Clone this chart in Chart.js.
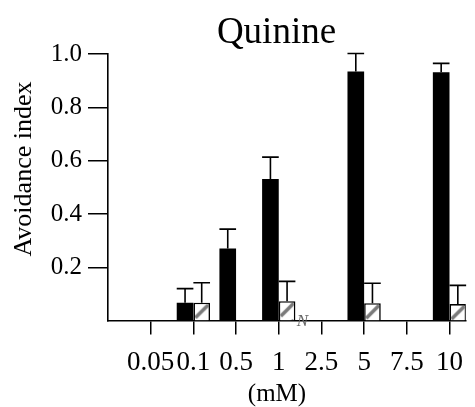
<!DOCTYPE html>
<html>
<head>
<meta charset="utf-8">
<script src="https://cdn.jsdelivr.net/npm/chart.js@4"></script>
<style>
  html, body { margin: 0; padding: 0; background: #fff; }
  canvas { display: block; }
</style>
</head>
<body>
<canvas id="c" width="475" height="407"></canvas>
<script>
// Quinine concentrations (mM)
const categories = ['0.05', '0.1', '0.5', '1', '2.5', '5', '7.5', '10'];
// Avoidance index, solid bars and their upper error (SEM)
const solidValues = [null, 0.067, 0.27, 0.531, null, 0.934, null, 0.932];
const solidErrors = [null, 0.053, 0.073, 0.082, null, 0.068, null, 0.033];
// Avoidance index, hatched bars and their upper error
const hatchValues = [null, 0.067, null, 0.073, null, 0.065, null, 0.062];
const hatchErrors = [null, 0.075, null, 0.074, null, 0.075, null, 0.070];
const yTickValues = [0.2, 0.4, 0.6, 0.8, 1.0];

const SERIF = "'Liberation Serif', 'Times New Roman', serif";
Chart.defaults.font.family = SERIF;
Chart.defaults.color = '#000';

const toPoints = (vals) => vals.map((v, i) => ({ x: i, y: v }));

// One diagonal stroke per hatched box, anchored at the box's top-left corner
function hatchFill(c) {
  const chart = c.chart;
  if (c.type !== 'data' || !chart.chartArea || !c.raw || c.raw.y == null) return '#fff';
  const xs = chart.scales.x, ys = chart.scales.y;
  const step = xs.getPixelForValue(1) - xs.getPixelForValue(0);
  const w = Math.max(2, Math.round(step * 0.78 / 2));
  const left = xs.getPixelForValue(c.raw.x);
  const top = ys.getPixelForValue(c.raw.y);
  const tile = document.createElement('canvas');
  tile.width = w; tile.height = w;
  const t = tile.getContext('2d');
  t.fillStyle = '#fff';
  t.fillRect(0, 0, w, w);
  t.strokeStyle = '#7a7a7a';
  t.lineWidth = 3.5;
  t.beginPath();
  t.moveTo(2, w - 2);
  t.lineTo(w - 2, 2);
  t.stroke();
  const pat = chart.ctx.createPattern(tile, 'repeat');
  if (pat.setTransform) pat.setTransform(new DOMMatrix([1, 0, 0, 1, left, top]));
  return pat;
}

// Upper error bars with caps, drawn from the data arrays through the scales
const errorBars = {
  id: 'errorBars',
  afterDatasetsDraw(chart) {
    const ys = chart.scales.y;
    const ctx = chart.ctx;
    const sets = [[solidValues, solidErrors], [hatchValues, hatchErrors]];
    ctx.save();
    ctx.strokeStyle = '#000';
    ctx.lineWidth = 1.6;
    sets.forEach(([vals, errs], di) => {
      const meta = chart.getDatasetMeta(di);
      meta.data.forEach((bar, j) => {
        if (vals[j] == null || errs[j] == null) return;
        const y0 = ys.getPixelForValue(vals[j]);
        const y1 = ys.getPixelForValue(vals[j] + errs[j]);
        const half = bar.width / 2;
        ctx.beginPath();
        ctx.moveTo(bar.x, y0);
        ctx.lineTo(bar.x, y1);
        ctx.moveTo(bar.x - half, y1);
        ctx.lineTo(bar.x + half, y1);
        ctx.stroke();
      });
    });
    ctx.restore();
  }
};

// Title, axis titles and the small note beside the 1 mM hatched bar
const captions = {
  id: 'captions',
  afterDraw(chart) {
    const ctx = chart.ctx;
    const xs = chart.scales.x;
    ctx.save();
    ctx.fillStyle = '#000';
    ctx.textAlign = 'center';
    ctx.textBaseline = 'alphabetic';

    ctx.font = '37px ' + SERIF;
    ctx.fillText('Quinine', 276.5, 42.5);

    ctx.font = '25px ' + SERIF;
    ctx.fillText('(mM)', 277, 401);

    ctx.save();
    ctx.translate(31, 169);
    ctx.rotate(-Math.PI / 2);
    ctx.font = '26px ' + SERIF;
    ctx.fillText('Avoidance index', 0, 0);
    ctx.restore();

    const step = xs.getPixelForValue(1) - xs.getPixelForValue(0);
    const nx = xs.getPixelForValue(3) + step * 0.78 / 2 + 7;
    ctx.fillStyle = '#666';
    ctx.font = 'italic 17px ' + SERIF;
    ctx.fillText('N', nx, 326);
    ctx.restore();
  }
};

new Chart(document.getElementById('c'), {
  type: 'bar',
  data: {
    datasets: [
      {
        data: toPoints(solidValues),
        backgroundColor: '#000',
        borderColor: '#000',
        borderWidth: 0
      },
      {
        data: toPoints(hatchValues),
        backgroundColor: hatchFill,
        borderColor: '#000',
        borderWidth: 1.6,
        borderSkipped: 'bottom'
      }
    ]
  },
  options: {
    responsive: false,
    animation: false,
    events: [],
    categoryPercentage: 0.78,
    barPercentage: 1.0,
    layout: { padding: { top: 54, right: 0, bottom: 0, left: 0 } },
    plugins: {
      legend: { display: false },
      tooltip: { enabled: false },
      title: { display: false }
    },
    scales: {
      x: {
        type: 'linear',
        min: -1,
        max: 7.38,
        offset: false,
        afterBuildTicks(axis) {
          axis.ticks = categories.map((_, i) => ({ value: i }));
        },
        afterFit(axis) { axis.height = 86.4; },
        grid: {
          offset: false,
          drawOnChartArea: false,
          drawTicks: true,
          tickLength: 14,
          color: '#000',
          lineWidth: 1.5
        },
        border: { display: true, color: '#000', width: 1.6 },
        ticks: {
          autoSkip: false,
          maxRotation: 0,
          padding: 12,
          color: '#000',
          font: { size: 27 },
          callback: (v) => categories[v] ?? ''
        }
      },
      y: {
        min: 0,
        max: 1.0,
        afterBuildTicks(axis) {
          axis.ticks = yTickValues.map((v) => ({ value: v }));
        },
        afterFit(axis) { axis.width = 108; },
        grid: {
          drawOnChartArea: false,
          drawTicks: true,
          tickLength: 20,
          color: '#000',
          lineWidth: 1.5
        },
        border: { display: true, color: '#000', width: 1.6 },
        ticks: {
          padding: 6,
          color: '#000',
          font: { size: 25 },
          callback: (v) => Number(v).toFixed(1)
        }
      }
    }
  },
  plugins: [errorBars, captions]
});
</script>
</body>
</html>
